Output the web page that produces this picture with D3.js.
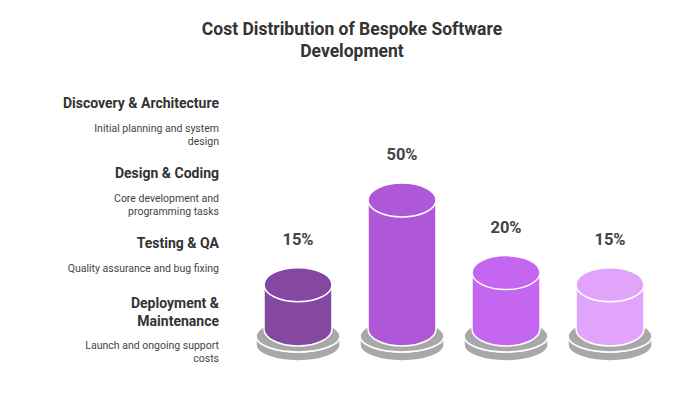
<!DOCTYPE html>
<html><head><meta charset="utf-8">
<script src="https://cdn.jsdelivr.net/npm/d3@7"></script>
<style>body{margin:0;background:#fff}text{font-family:Roboto,sans-serif}</style>
</head><body><svg id="c" width="700" height="400"></svg>
<script>
const categories = ['Discovery & Architecture', 'Design & Coding', 'Testing & QA', 'Deployment & Maintenance']
const descriptions = [
  ['Initial planning and system', 'design'],
  ['Core development and', 'programming tasks'],
  ['Quality assurance and bug fixing'],
  ['Launch and ongoing support', 'costs']
]
const titleLines = [['Discovery & Architecture'], ['Design & Coding'], ['Testing & QA'], ['Deployment &', 'Maintenance']]
const values = [15, 50, 20, 15]
const colors = ['#8548a0', '#ae58d8', '#c466f0', '#e0a4fa']

let svg = d3.select('#c')
svg.append('text').attr('x', 352).attr('y', 35).attr('text-anchor', 'middle')
  .style('font-size', '17.5px').style('font-weight', 'bold').attr('fill', '#333')
  .selectAll('tspan').data(['Cost Distribution of Bespoke Software', 'Development']).join('tspan')
  .attr('x', 352).attr('dy', (d, i) => i ? 22 : 0).text(d => d)

// left side labels
let titleY = [108, 178, 248, 308]
let descY = [132, 202, 272, 349]
categories.forEach((c, i) => {
  svg.append('text').attr('text-anchor', 'end').attr('fill', '#333')
    .style('font-size', '14px').style('font-weight', 'bold')
    .selectAll('tspan').data(titleLines[i]).join('tspan')
    .attr('x', 219).attr('y', (d, j) => titleY[i] + j * 18).text(d => d)
  svg.append('text').attr('text-anchor', 'end').attr('fill', '#444')
    .style('font-size', '10.5px')
    .selectAll('tspan').data(descriptions[i]).join('tspan')
    .attr('x', 219).attr('y', (d, j) => descY[i] + j * 13).text(d => d)
})

let x = d3.scalePoint().domain(d3.range(values.length)).range([298, 610])
let h = d3.scaleLinear().domain([0, 50]).range([8, 129])
let base = 329, rx = 34, ry = 17

let g = svg.selectAll('g.bar').data(values).join('g').attr('class', 'bar')
  .attr('transform', (d, i) => `translate(${x(i)},0)`)

// gray base discs
g.append('path').attr('fill', '#a8a8a8').attr('stroke', '#fff').attr('stroke-width', 1.5)
  .attr('d', `M-42,${base + 7} A42,16 0 0,0 42,${base + 7} L42,${base + 16} A42,16 0 0,1 -42,${base + 16} Z`)
g.append('ellipse').attr('cy', base + 7).attr('rx', 42).attr('ry', 16)
  .attr('fill', '#a8a8a8').attr('stroke', '#fff').attr('stroke-width', 1.5)

// cylinder bodies
g.append('path').attr('fill', (d, i) => colors[i]).attr('stroke', '#fff').attr('stroke-width', 1.5)
  .attr('d', d => `M${-rx},${base - h(d)} L${-rx},${base} A${rx},${ry} 0 0,0 ${rx},${base} L${rx},${base - h(d)} Z`)
g.append('ellipse').attr('cy', d => base - h(d)).attr('rx', rx).attr('ry', ry)
  .attr('fill', (d, i) => colors[i]).attr('stroke', '#fff').attr('stroke-width', 1.5)

g.append('text').attr('text-anchor', 'middle').attr('y', d => base - h(d) - 40)
  .attr('fill', '#444').style('font-size', '16.5px').style('font-weight', 'bold')
  .text(d => d + '%')
</script></body></html>
